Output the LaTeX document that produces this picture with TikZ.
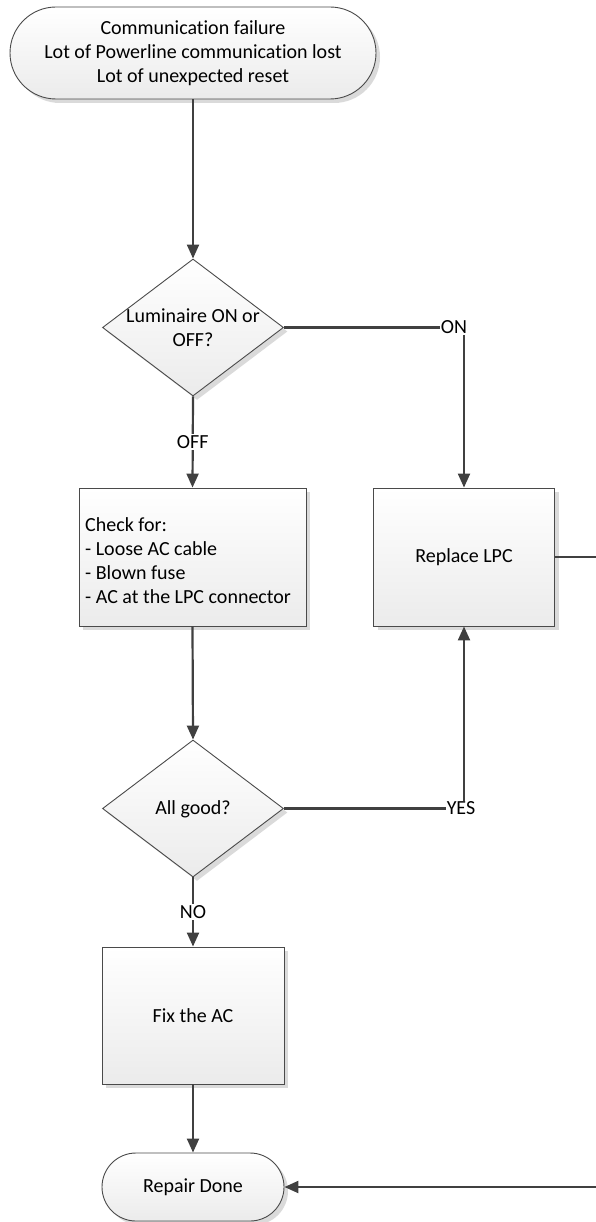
\documentclass[tikz,border=0pt]{standalone}
\usepackage{fontspec}
\setmainfont{Carlito}[Ligatures=NoCommon]
\usetikzlibrary{shapes.geometric,shadows,arrows.meta}
\definecolor{linegray}{HTML}{404040}
\definecolor{edgegray}{HTML}{4A4A4A}
\definecolor{fillbot}{HTML}{EBEBEB}
\definecolor{shadowgray}{HTML}{DADADA}
\tikzset{
  txt/.style={font=\fontsize{20pt}{24pt}\selectfont},
  shaded/.style={txt, draw=edgegray, line width=0.9pt, top color=white, bottom color=fillbot,
    drop shadow={shadow xshift=4pt, shadow yshift=-4pt, fill=shadowgray, opacity=1}},
  terminal/.style={shaded, rectangle, inner sep=0pt, align=center},
  process/.style={shaded, rectangle, inner sep=0pt, align=center},
  decision/.style={shaded, diamond, inner sep=0pt, minimum width=181pt, minimum height=137pt},
  dtext/.style={txt, align=center, inner sep=0pt},
  flow/.style={draw=linegray, line width=2.2pt, -{Triangle[width=12pt,length=14pt]}},
  lbl/.style={txt, fill=white, inner sep=1pt}
}
\begin{document}
\begin{tikzpicture}[x=1pt, y=-1pt]
  \useasboundingbox (0,0) rectangle (596,1222);
  \clip (0,0) rectangle (596,1222);

  % shapes
  \node[terminal, rounded corners=46pt, minimum width=366pt, minimum height=92pt] (start) at (193,53)
    {Communication failure\\Lot of Powerline communication lost\\Lot of unexpected reset};
  \node[decision] (d1) at (193,327.5) {};
  \node[dtext] (d1t) at (193,328) {Luminaire ON or\\OFF?};
  \node[process, minimum width=227pt, minimum height=138pt] (check) at (192.5,557) {};
  \node[dtext, align=left, anchor=west] (checkt) at (85,561)
    {Check for:\\- Loose AC cable\\- Blown fuse\\- AC at the LPC connector};
  \node[process, minimum width=181pt, minimum height=138pt] (lpc) at (464,557) {Replace LPC};
  \node[decision] (d2) at (193,808.5) {};
  \node[dtext] (d2t) at (193,809) {All good?};
  \node[process, minimum width=182pt, minimum height=137pt] (fix) at (193,1015.5) {Fix the AC};
  \node[terminal, rounded corners=34pt, minimum width=182pt, minimum height=68pt] (done) at (193,1187)
    {Repair Done};

  % connectors
  \draw[flow] (start.south) -- (d1.north);
  \draw[flow] (d1.east) -| node[lbl, xshift=-10pt] {ON} (lpc.north);
  \draw[flow] (d1.south) -- node[lbl] {OFF} (check.north);
  \draw[flow] (check.south) -- (d2.north);
  \draw[flow] (d2.east) -| node[lbl, xshift=-3pt] {YES} (lpc.south);
  \draw[flow] (d2.south) -- node[lbl] {NO} (fix.north);
  \draw[flow] (fix.south) -- (done.north);
  \coordinate (loopR) at (604,557);
  \draw[flow] (lpc.east) -- (loopR) |- (done.east);
\end{tikzpicture}
\end{document}
